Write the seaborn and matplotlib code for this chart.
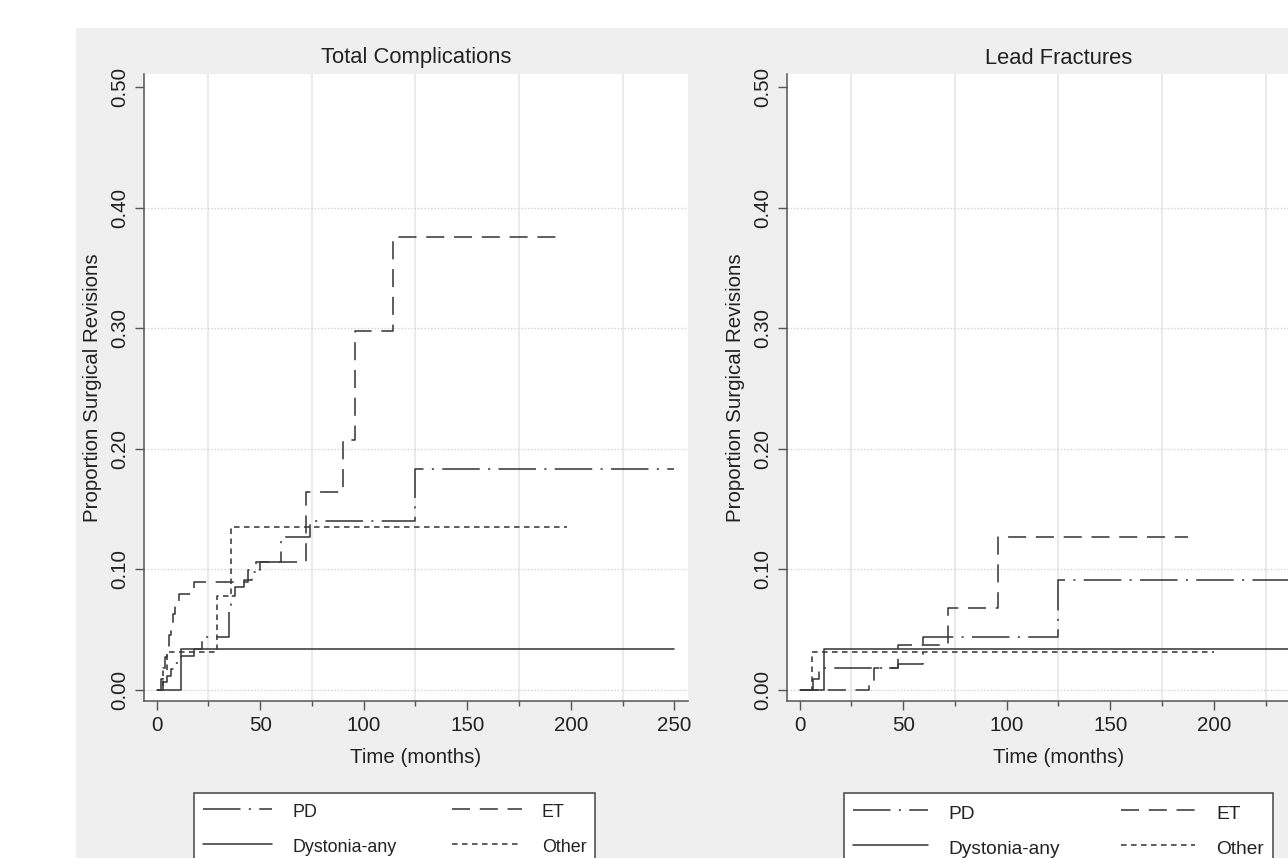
import numpy as np
import pandas as pd
import matplotlib
matplotlib.use("Agg")
import matplotlib.pyplot as plt
from matplotlib.patches import Rectangle
from matplotlib.lines import Line2D
import seaborn as sns

# ---- data: Kaplan-Meier style step curves, time (months) vs proportion ----
groups = ["PD", "Dystonia-any", "ET", "Other"]

# Total Complications
tc_pd_t = [0, 3, 5, 7, 9, 12, 18, 22, 35, 36, 38, 42, 46, 48, 60, 74, 125, 250]
tc_pd_p = [0, 0.006, 0.011, 0.017, 0.022, 0.028, 0.034, 0.044, 0.069, 0.078, 0.085, 0.091, 0.098, 0.106, 0.127, 0.140, 0.183, 0.183]
tc_dys_t = [0, 12, 250]
tc_dys_p = [0, 0.034, 0.034]
tc_et_t = [0, 2, 3, 4, 5, 6, 7, 8, 9, 11, 18, 44, 50, 72, 90, 96, 114, 193]
tc_et_p = [0, 0.009, 0.018, 0.027, 0.036, 0.045, 0.054, 0.063, 0.071, 0.079, 0.089, 0.099, 0.106, 0.164, 0.207, 0.298, 0.376, 0.376]
tc_oth_t = [0, 3, 5, 29, 36, 198]
tc_oth_p = [0, 0.016, 0.031, 0.078, 0.135, 0.135]

# Lead Fractures
lf_pd_t = [0, 6.5, 9.5, 47.5, 59.6, 125, 257]
lf_pd_p = [0, 0.009, 0.018, 0.021, 0.044, 0.091, 0.091]
lf_dys_t = [0, 12, 257]
lf_dys_p = [0, 0.034, 0.034]
lf_et_t = [0, 33.5, 36, 47.7, 71.7, 95.8, 187.5]
lf_et_p = [0, 0.007, 0.018, 0.037, 0.068, 0.127, 0.127]
lf_oth_t = [0, 6, 200]
lf_oth_p = [0, 0.031, 0.031]

x_ticks = [0, 50, 100, 150, 200, 250]
x_minor = [25, 75, 125, 175, 225]
y_ticks = [0.0, 0.1, 0.2, 0.3, 0.4, 0.5]
y_labels = ["0.00", "0.10", "0.20", "0.30", "0.40", "0.50"]

W, H = 1288, 858
BG = "#efefef"
INK = "#3a3a3a"
styles = {
    "PD": (0, (27, 6, 1.5, 6)),
    "Dystonia-any": "-",
    "ET": (0, (13, 7)),
    "Other": (0, (4, 3.2)),
}

sns.set_theme(style="white")
plt.rcParams["font.family"] = ["Liberation Sans", "DejaVu Sans"]
plt.rcParams["lines.scale_dashes"] = False

fig = plt.figure(figsize=(W / 100, H / 100), dpi=100)
fig.patch.set_facecolor("white")
fig.patches.append(Rectangle((76 / W, 0), 1, 1 - 28 / H, transform=fig.transFigure,
                             facecolor=BG, edgecolor="none", zorder=-10))


def px_axes(x0, y_top, w, y_bot):
    return fig.add_axes([x0 / W, 1 - y_bot / H, w / W, (y_bot - y_top) / H])


def draw_panel(ax, curves, title, leg_x0, leg_x1, leg_fs, leg_sp):
    for name in groups:
        t, p = curves[name]
        df = pd.DataFrame({"t": t, "p": p})
        sns.lineplot(data=df, x="t", y="p", ax=ax, color=INK, linewidth=1.15,
                     linestyle=styles[name], drawstyle="steps-post",
                     estimator=None, sort=False)
    ax.set_xlim(-6.1, 256.6)
    ax.set_ylim(-0.0095, 0.511)
    ax.set_facecolor("white")
    for s in ["top", "right"]:
        ax.spines[s].set_visible(False)
    for s in ["left", "bottom"]:
        ax.spines[s].set_color("#555555")
        ax.spines[s].set_linewidth(1.1)
    ax.set_xticks(x_ticks)
    ax.set_xticks(x_minor, minor=True)
    ax.set_yticks(y_ticks)
    ax.set_yticklabels(y_labels, rotation=90, va="center")
    ax.tick_params(axis="both", which="major", length=6.5, width=1.0, color="#555555",
                   labelsize=14.8, labelcolor="#222222", pad=4, direction="out",
                   left=True, bottom=True)
    ax.tick_params(axis="x", which="minor", length=3.6, width=1.0, color="#555555",
                   direction="out", bottom=True)
    ax.grid(which="minor", axis="x", color="#e4e4e4", linewidth=1.1, linestyle="-")
    ax.grid(which="major", axis="y", color="#cfcfcf", linewidth=0.9, linestyle=(0, (1, 1.4)))
    ax.grid(which="major", axis="x", visible=False)
    ax.yaxis.get_gridlines()[-1].set_visible(False)
    ax.set_axisbelow(True)
    ax.set_xlabel("Time (months)", fontsize=14.8, color="#222222", labelpad=10)
    ax.set_ylabel("Proportion Surgical Revisions", fontsize=14.8, color="#222222", labelpad=6)

    pos = ax.get_position()
    fig.text(pos.x0 + pos.width / 2, 1 - 58 / H, title, ha="center", va="center",
             fontsize=15.8, color="#222222")

    handles = [Line2D([], [], color=INK, linewidth=1.15, linestyle=styles[g]) for g in groups]
    leg = fig.legend(handles, groups, ncol=2, loc="upper left",
                     bbox_to_anchor=(leg_x0 / W, 1 - 793 / H, (leg_x1 - leg_x0) / W, 0),
                     mode="expand", borderaxespad=0, fontsize=leg_fs, frameon=True,
                     fancybox=False, framealpha=1, edgecolor="#444444",
                     handlelength=3.9, handleheight=1.25, handletextpad=1.1,
                     labelspacing=leg_sp, borderpad=0.48)
    leg.get_frame().set_linewidth(1.1)
    for txt in leg.get_texts():
        txt.set_color("#222222")


ax1 = px_axes(144, 74, 544, 701)
ax2 = px_axes(787, 74, 544, 701)

draw_panel(ax1, {"PD": (tc_pd_t, tc_pd_p), "Dystonia-any": (tc_dys_t, tc_dys_p),
                 "ET": (tc_et_t, tc_et_p), "Other": (tc_oth_t, tc_oth_p)},
           "Total Complications", 194, 595, 12.9, 0.87)
draw_panel(ax2, {"PD": (lf_pd_t, lf_pd_p), "Dystonia-any": (lf_dys_t, lf_dys_p),
                 "ET": (lf_et_t, lf_et_p), "Other": (lf_oth_t, lf_oth_p)},
           "Lead Fractures", 844, 1273, 13.75, 0.76)

# the right panel runs past the figure edge (as in the source); its last tick label is off-canvas
ax2.get_xticklabels()[-1].set_visible(False)

fig.savefig("out.png", dpi=100, facecolor=fig.get_facecolor())
